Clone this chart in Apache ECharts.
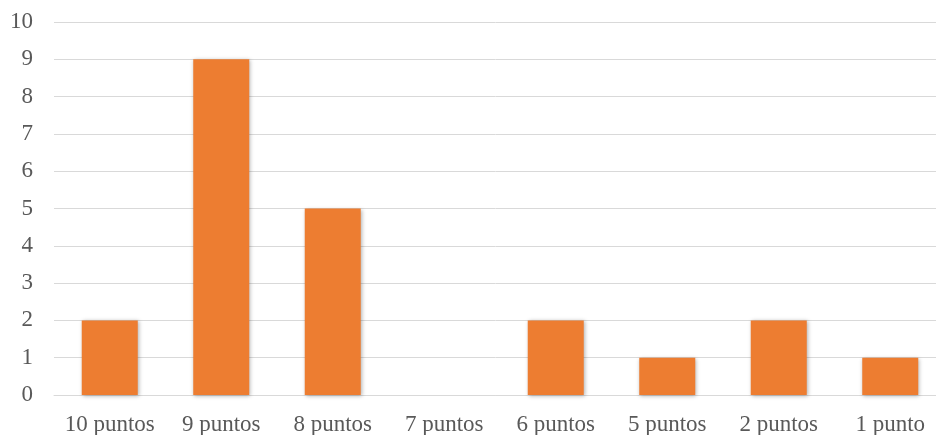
<!DOCTYPE html>
<html><head><meta charset="utf-8">
<script src="https://cdn.jsdelivr.net/npm/echarts@6/dist/echarts.min.js"></script>
<style>html,body{margin:0;padding:0;background:#fff}#c{width:936px;height:435px}</style>
</head><body><div id="c"></div>
<script>
const categories = ['10 puntos','9 puntos','8 puntos','7 puntos','6 puntos','5 puntos','2 puntos','1 punto'];
const values = [2, 9, 5, 0, 2, 1, 2, 1];
const chart = echarts.init(document.getElementById('c'));
chart.setOption({
  animation: false,
  grid: {left: 54, width: 892, top: 22, height: 373, containLabel: false, outerBoundsMode: 'none'},
  xAxis: {
    type: 'category', data: categories,
    axisLine: {show: true, lineStyle: {color: '#d9d9d9', width: 1}},
    axisTick: {show: false},
    axisLabel: {color: '#595959', fontFamily: 'Liberation Serif', fontSize: 23, margin: 18, interval: 0}
  },
  yAxis: {
    type: 'value', min: 0, max: 10, interval: 1,
    axisLine: {show: false}, axisTick: {show: false},
    splitLine: {lineStyle: {color: '#d9d9d9', width: 1}},
    axisLabel: {color: '#595959', fontFamily: 'Liberation Serif', fontSize: 23, margin: 21}
  },
  series: [{
    type: 'bar', data: values, barWidth: 56,
    itemStyle: {color: '#ED7D31', shadowColor: 'rgba(0,0,0,0.3)', shadowBlur: 4, shadowOffsetX: 1, shadowOffsetY: 1}
  }]
});
</script></body></html>
